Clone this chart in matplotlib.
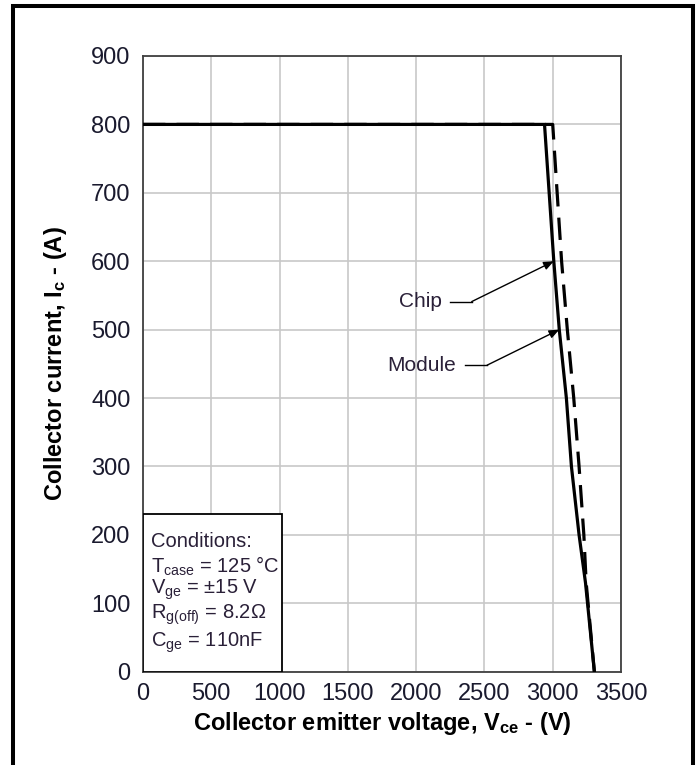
import matplotlib
matplotlib.use("Agg")
import matplotlib.pyplot as plt
from matplotlib import font_manager
from matplotlib.patches import Rectangle

names = {f.name for f in font_manager.fontManager.ttflist}
FONT = "Liberation Sans Narrow" if "Liberation Sans Narrow" in names else "Liberation Sans"
plt.rcParams["font.family"] = [FONT, "DejaVu Sans"]
plt.rcParams["mathtext.default"] = "regular"

# Data
module_v = [0, 2940, 3008, 3048, 3100, 3137, 3193, 3240, 3305]
module_i = [800, 800, 600, 500, 400, 300, 200, 130, 0]
chip_v = [0, 3000, 3065, 3107, 3154, 3193, 3228, 3245, 3305]
chip_i = [800, 800, 600, 500, 400, 300, 200, 130, 0]
x_ticks = [0, 500, 1000, 1500, 2000, 2500, 3000, 3500]
y_ticks = [0, 100, 200, 300, 400, 500, 600, 700, 800, 900]
cond_lines = ["Conditions:",
              r"T$_{case}$ = 125 °C",
              r"V$_{ge}$ = ±15 V",
              r"R$_{g(off)}$ = 8.2Ω",
              r"C$_{ge}$ = 110nF"]

W, H = 699, 765
fig = plt.figure(figsize=(W / 100, H / 100), dpi=100)
ax = fig.add_axes([143 / W, (H - 671.7) / H, (621 - 143) / W, (671.7 - 56) / H])

ax.set_xlim(0, 3500)
ax.set_ylim(0, 900)
ax.set_xticks(x_ticks)
ax.set_yticks(y_ticks)
ax.grid(True, color="#c8c8c8", lw=1.2)
ax.set_axisbelow(True)
for s in ax.spines.values():
    s.set_color("#404040")
    s.set_linewidth(1.3)
ax.tick_params(length=0, labelsize=17, colors="#1a1a2e")
ax.tick_params(axis="y", pad=9)
ax.tick_params(axis="x", pad=8)

ax.plot(module_v, module_i, color="black", lw=2.3, solid_joinstyle="miter", zorder=3)
ln, = ax.plot(chip_v, chip_i, color="black", lw=2.3, zorder=3)
ln.set_dashes([7, 3.5])

ax.set_xlabel(r"Collector emitter voltage, V$_{ce}$ - (V)", fontsize=17,
              fontweight="bold", labelpad=4)
ax.set_ylabel(r"Collector current, I$_{c}$ - (A)", fontsize=17,
              fontweight="bold", labelpad=16)

# annotations
txtc = "#2a2038"
ax.text(2028, 541, "Chip", fontsize=15, color=txtc, ha="center", va="center")
ax.plot([2248, 2407], [541, 541], color="black", lw=1.0)
ax.annotate("", xy=(3008, 600), xytext=(2407, 541),
            arrowprops=dict(arrowstyle="-|>,head_length=0.6,head_width=0.25",
                            color="black", lw=1.0, shrinkA=0, shrinkB=0))
ax.text(2043, 448, "Module", fontsize=15, color=txtc, ha="center", va="center")
ax.plot([2358, 2519], [448, 448], color="black", lw=1.0)
ax.annotate("", xy=(3048, 500), xytext=(2519, 448),
            arrowprops=dict(arrowstyle="-|>,head_length=0.6,head_width=0.25",
                            color="black", lw=1.0, shrinkA=0, shrinkB=0))

# conditions box
ax.add_patch(Rectangle((0, 0), 1020, 230, facecolor="white", edgecolor="black",
                       lw=1.3, zorder=4))
ys = [541.7, 566.7, 590, 615, 643]
for t, yp in zip(cond_lines, ys):
    yd = (671.7 - yp) / (671.7 - 56) * 900
    ax.text(60, yd, t, fontsize=14.5, color=txtc, ha="left", va="center", zorder=5)

# figure border
fig.patches.append(Rectangle((13 / W, -0.05), (693 - 13) / W, (H - 6) / H + 0.05,
                             transform=fig.transFigure, fill=False,
                             edgecolor="black", lw=2.9, clip_on=False))

fig.savefig("out.png", dpi=100)
